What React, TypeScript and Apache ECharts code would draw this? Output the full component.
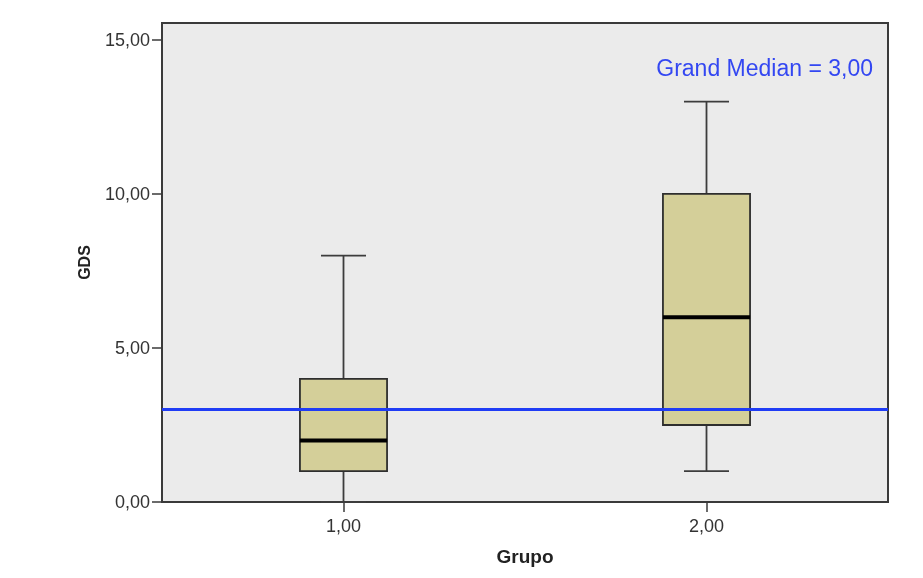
import { useEffect, useRef } from 'react';
import * as echarts from 'echarts';

const categories = ['1,00', '2,00'];
const whiskerLow = [0, 1];
const q1 = [1, 2.5];
const medians = [2, 6];
const q3 = [4, 10];
const whiskerHigh = [8, 13];
const grandMedian = 3;
const yTicks = [0, 5, 10, 15];

const fmt = (v: number) => v.toFixed(2).replace('.', ',');

export default function App() {
  const ref = useRef<HTMLDivElement>(null);
  useEffect(() => {
    document.body.style.margin = '0';
    const chart = echarts.init(ref.current!, null, { renderer: 'svg' });
    const data = categories.map((_, i) => [i, whiskerLow[i], q1[i], medians[i], q3[i], whiskerHigh[i]]);
    const renderItem = (params: any, api: any) => {
      const idx = api.value(0);
      const band = api.size([1, 0])[0];
      const bw = band * 0.24;
      const cw = band * 0.124;
      const pLow = api.coord([idx, api.value(1)]);
      const pQ1 = api.coord([idx, api.value(2)]);
      const pMed = api.coord([idx, api.value(3)]);
      const pQ3 = api.coord([idx, api.value(4)]);
      const pHigh = api.coord([idx, api.value(5)]);
      const cx = pLow[0];
      const ws = { stroke: '#3c3c3c', lineWidth: 1.8 };
      return {
        type: 'group',
        children: [
          { type: 'line', shape: { x1: cx, y1: pQ3[1], x2: cx, y2: pHigh[1] }, style: ws },
          { type: 'line', shape: { x1: cx, y1: pQ1[1], x2: cx, y2: pLow[1] }, style: ws },
          { type: 'line', shape: { x1: cx - cw / 2, y1: pHigh[1], x2: cx + cw / 2, y2: pHigh[1] }, style: ws },
          { type: 'line', shape: { x1: cx - cw / 2, y1: pLow[1], x2: cx + cw / 2, y2: pLow[1] }, style: ws },
          {
            type: 'rect',
            shape: { x: cx - bw / 2, y: pQ3[1], width: bw, height: pQ1[1] - pQ3[1] },
            style: { fill: '#d4cf99', stroke: '#2e2e2e', lineWidth: 1.8 },
          },
          {
            type: 'line',
            shape: { x1: cx - bw / 2, y1: pMed[1], x2: cx + bw / 2, y2: pMed[1] },
            style: { stroke: '#000', lineWidth: 4 },
          },
        ],
      };
    };
    chart.setOption({
      animation: false,
      textStyle: { fontFamily: '"Liberation Sans", Arial, sans-serif' },
      title: {
        text: `Grand Median = ${fmt(grandMedian)}`,
        right: 45,
        top: 51,
        textStyle: { color: '#3347f2', fontSize: 23, fontWeight: 'normal', fontFamily: '"Liberation Sans", Arial, sans-serif' },
      },
      grid: {
        left: 162,
        right: 35,
        top: 23,
        bottom: 76,
        show: true,
        backgroundColor: '#ebebeb',
        borderColor: '#3a3a3a',
        borderWidth: 2,
      },
      xAxis: {
        type: 'category',
        data: categories,
        name: 'Grupo',
        nameLocation: 'middle',
        nameGap: 45,
        nameTextStyle: { fontWeight: 'bold', fontSize: 19, color: '#222' },
        axisLine: { show: true, lineStyle: { color: '#3a3a3a', width: 2 } },
        axisTick: { show: true, alignWithLabel: true, length: 10, lineStyle: { color: '#3a3a3a', width: 1.5 } },
        axisLabel: { fontSize: 18, color: '#333', margin: 15 },
        splitLine: { show: false },
      },
      yAxis: {
        type: 'value',
        min: 0,
        max: 15.55,
        name: 'GDS',
        nameLocation: 'middle',
        nameGap: 70,
        nameRotate: 90,
        nameTextStyle: { fontWeight: 'bold', fontSize: 16, color: '#222' },
        axisLine: { show: true, lineStyle: { color: '#3a3a3a', width: 2 } },
        axisTick: { show: true, customValues: yTicks, length: 10, lineStyle: { color: '#3a3a3a', width: 1.5 } },
        axisLabel: { customValues: yTicks, formatter: (v: number) => fmt(v), fontSize: 18, color: '#333', margin: 12 },
        splitLine: { show: false },
      },
      series: [
        {
          type: 'custom',
          renderItem,
          data,
          encode: { x: 0, y: [1, 2, 3, 4, 5] },
          markLine: {
            silent: true,
            symbol: 'none',
            label: { show: false },
            lineStyle: { color: '#1f3cf5', width: 3, type: 'solid' },
            data: [{ yAxis: grandMedian }],
          },
        },
      ],
    });
    return () => chart.dispose();
  }, []);
  return <div ref={ref} style={{ width: 923, height: 578, position: 'fixed', left: 0, top: 0 }} />;
}
